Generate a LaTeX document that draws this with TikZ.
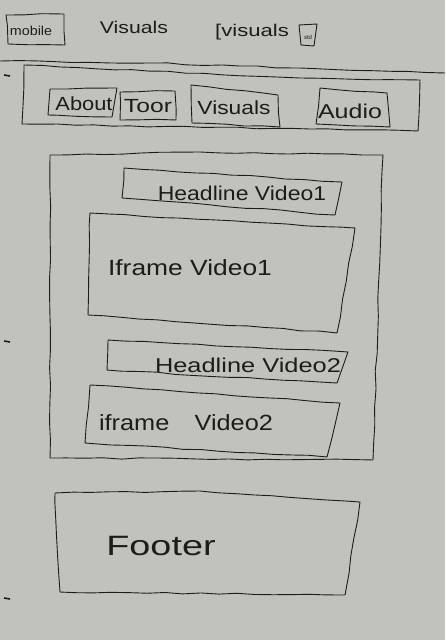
\documentclass[tikz,border=0pt]{standalone}
\usepackage{graphicx}
\usepackage{fontspec}
\setmainfont{Liberation Sans}
\usetikzlibrary{decorations.pathmorphing}
\definecolor{paper}{RGB}{194,194,188}
\definecolor{ink}{RGB}{28,28,28}
\newcommand{\hwtext}[2]{\scalebox{#1}[1]{#2}}
\begin{document}
\begin{tikzpicture}[x=1pt,y=-1pt,
  box/.style={draw=ink,line width=0.9pt,line join=round,
    decorate,decoration={random steps,segment length=18pt,amplitude=0.7pt}},
  lbl/.style={text=ink,inner sep=0pt,anchor=center},
  tick/.style={draw=ink,line width=1.6pt}]
\fill[paper] (0,0) rectangle (445,640);
\useasboundingbox (0,0) rectangle (445,640);
% header
\draw[box] (6,15) -- (64,14) -- (65,45) -- (8,44) -- cycle;
\node[lbl,font=\fontsize{13}{13}\selectfont] (mobile) at (31,31) {\hwtext{1.1}{mobile}};
\node[lbl,font=\fontsize{17}{17}\selectfont] (vis) at (134,27) {\hwtext{1.25}{Visuals}};
\node[lbl,font=\fontsize{17}{17}\selectfont] (visb) at (252,32) {\hwtext{1.3}{[visuals}};
\draw[box] (299,25) -- (317,24) -- (314,46) -- (301,45) -- cycle;
\node[lbl,font=\fontsize{6}{6}\selectfont] (std) at (308,37) {std};
% top line and marks
\draw[box] (0,61) -- (150,63) -- (300,68) -- (445,73);
\draw[tick] (4,75) -- (10,76);
\draw[tick] (4,341) -- (10,342);
\draw[tick] (4,598) -- (10,599);
% nav bar
\draw[box] (24,65) -- (300,78) -- (420,80) -- (418,131) -- (22,124) -- cycle;
\draw[box] (50,89) -- (117,88) -- (112,117) -- (48,115) -- cycle;
\node[lbl,font=\fontsize{19}{19}\selectfont] (about) at (84,104) {\hwtext{1.15}{About}};
\draw[box] (120,92) -- (175,91) -- (176,120) -- (120,120) -- cycle;
\node[lbl,font=\fontsize{19}{19}\selectfont] (toor) at (148,106) {\hwtext{1.3}{Toor}};
\draw[box] (191,85) -- (278,95) -- (280,127) -- (192,123) -- cycle;
\node[lbl,font=\fontsize{19}{19}\selectfont] (visuals) at (234,108) {\hwtext{1.2}{Visuals}};
\draw[box] (320,88) -- (387,93) -- (390,127) -- (316,124) -- cycle;
\node[lbl,font=\fontsize{20}{20}\selectfont] (audio) at (350,111) {\hwtext{1.25}{Audio}};
% main content
\draw[box] (50,155) -- (200,152) -- (383,155) -- (373,460) -- (50,458) -- cycle;
\draw[box] (124,168) -- (342,182) -- (335,215) -- (122,198) -- cycle;
\node[lbl,font=\fontsize{20}{20}\selectfont] (h1) at (242,193) {\hwtext{1.15}{Headline Video1}};
\draw[box] (90,213) -- (355,228) -- (337,333) -- (88,315) -- cycle;
\node[lbl,font=\fontsize{22}{22}\selectfont] (if1) at (190,268) {\hwtext{1.2}{Iframe Video1}};
\draw[box] (108,340) -- (348,352) -- (337,383) -- (107,370) -- cycle;
\node[lbl,font=\fontsize{20}{20}\selectfont] (h2) at (248,365) {\hwtext{1.27}{Headline Video2}};
\draw[box] (90,385) -- (340,403) -- (327,457) -- (85,443) -- cycle;
\node[lbl,font=\fontsize{22}{22}\selectfont] (if2) at (186,423) {\hwtext{1.15}{iframe\quad Video2}};
% footer
\draw[box] (55,493) -- (200,491) -- (360,502) -- (345,595) -- (60,592) -- cycle;
\node[lbl,font=\fontsize{28}{28}\selectfont] (footer) at (161,546) {\hwtext{1.35}{Footer}};
\end{tikzpicture}
\end{document}
